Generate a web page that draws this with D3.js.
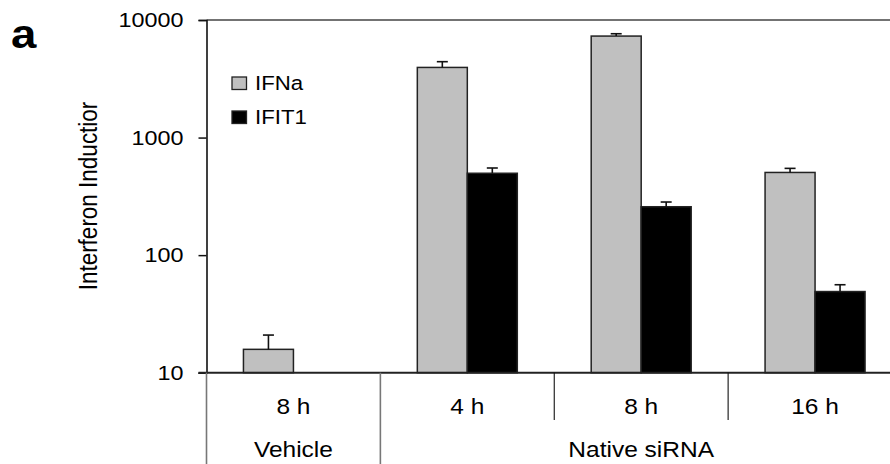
<!DOCTYPE html>
<html>
<head>
<meta charset="utf-8">
<script src="https://cdn.jsdelivr.net/npm/d3@7/dist/d3.min.js"></script>
<style>
  html, body { margin: 0; padding: 0; background: #fff; }
  svg { display: block; font-family: "Liberation Sans", Arial, sans-serif; }
</style>
</head>
<body>
<svg id="chart" width="890" height="464"></svg>
<script>
// Time points (first row of the category axis) and treatment groups (second row)
const timePoints = ["8 h", "4 h", "8 h", "16 h"];
const treatments = ["Vehicle", "Native siRNA"];
const treatmentSpan = [1, 3];           // number of time points in each treatment

const seriesNames = ["IFNa", "IFIT1"];
const ifnaValues = [15.8, 3950, 7300, 505];
const ifnaErrors = [5.1, 470, 340, 42];
const ifit1Values = [null, 497, 258, 49];
const ifit1Errors = [null, 54, 25, 7];

const yTicks = [10, 100, 1000, 10000];
const yTitle = "Interferon Inductior";
const panelLetter = "a";

const seriesFill = { IFNa: "#c0c0c0", IFIT1: "#000000" };

// text is drawn slightly widened horizontally
const SX = 1.14;

const svg = d3.select("#chart");
const plot = { left: 206.5, top: 20, right: 902, bottom: 372.7 };

const x = d3.scaleBand()
  .domain(d3.range(timePoints.length))
  .range([plot.left, plot.right])
  .paddingInner(0.425)
  .paddingOuter(0.2125);

const xSub = d3.scaleBand()
  .domain(seriesNames)
  .range([0, x.bandwidth()]);

const y = d3.scaleLog()
  .domain([10, 10000])
  .range([plot.bottom, plot.top]);

const rows = timePoints.map((t, i) => ({
  i,
  bars: [
    { key: "IFNa", v: ifnaValues[i], e: ifnaErrors[i] },
    { key: "IFIT1", v: ifit1Values[i], e: ifit1Errors[i] }
  ].filter(b => b.v != null)
}));

// top frame line
svg.append("line")
  .attr("x1", plot.left).attr("x2", 890)
  .attr("y1", plot.top).attr("y2", plot.top)
  .attr("stroke", "#444").attr("stroke-width", 1.5);

// bars
const groups = svg.append("g").selectAll("g")
  .data(rows).join("g")
  .attr("transform", d => `translate(${x(d.i)},0)`);

groups.selectAll("rect")
  .data(d => d.bars).join("rect")
  .attr("x", d => xSub(d.key))
  .attr("y", d => y(d.v))
  .attr("width", xSub.bandwidth())
  .attr("height", d => y(10) - y(d.v))
  .attr("fill", d => seriesFill[d.key])
  .attr("stroke", "#222")
  .attr("stroke-width", 1.5);

// upper error bars
const errs = groups.selectAll("g.err")
  .data(d => d.bars).join("g").attr("class", "err")
  .attr("stroke", "#111").attr("stroke-width", 1.6);
errs.append("line")
  .attr("x1", d => xSub(d.key) + xSub.bandwidth() / 2)
  .attr("x2", d => xSub(d.key) + xSub.bandwidth() / 2)
  .attr("y1", d => y(d.v))
  .attr("y2", d => y(d.v + d.e));
errs.append("line")
  .attr("x1", d => xSub(d.key) + xSub.bandwidth() / 2 - 5.5)
  .attr("x2", d => xSub(d.key) + xSub.bandwidth() / 2 + 5.5)
  .attr("y1", d => y(d.v + d.e))
  .attr("y2", d => y(d.v + d.e));

// y axis
const yAxis = svg.append("g")
  .attr("transform", `translate(${plot.left},0)`)
  .call(d3.axisLeft(y).tickValues(yTicks).tickFormat(d3.format("d")).tickSize(8).tickPadding(15));
yAxis.select(".domain").attr("stroke", "#111").attr("stroke-width", 1.6);
yAxis.selectAll(".tick line").attr("stroke", "#111").attr("stroke-width", 1.5);
yAxis.selectAll(".tick text")
  .attr("font-size", 20.5)
  .attr("font-family", "Liberation Sans, Arial, sans-serif")
  .attr("fill", "#000")
  .attr("x", -23 / SX)
  .attr("transform", `scale(${SX},1)`);

// x axis line
svg.append("line")
  .attr("x1", plot.left - 8).attr("x2", 890)
  .attr("y1", plot.bottom).attr("y2", plot.bottom)
  .attr("stroke", "#222").attr("stroke-width", 2);

// category separators
const edges = [x.step() * 0, 1, 2, 3].map((_, k) => plot.left + k * x.step());
let acc = 0;
const treatmentEdges = [plot.left];
treatmentSpan.forEach(s => { acc += s; treatmentEdges.push(plot.left + acc * x.step()); });
edges.forEach(ex => {
  const major = treatmentEdges.some(t => Math.abs(t - ex) < 0.5);
  svg.append("line")
    .attr("x1", ex).attr("x2", ex)
    .attr("y1", plot.bottom).attr("y2", major ? 464 : 420)
    .attr("stroke", major ? "#777" : "#111")
    .attr("stroke-width", major ? 1.6 : 1.1);
});

function stretchedText(sel, tx, ty, str, size, opts = {}) {
  return sel.append("text")
    .attr("transform", `translate(${tx},${ty}) scale(${SX},1)` + (opts.rotate ? ` rotate(${opts.rotate})` : ""))
    .attr("text-anchor", opts.anchor || "middle")
    .attr("font-size", size)
    .attr("font-weight", opts.weight || "normal")
    .attr("fill", "#000")
    .text(str);
}

// first row: time points
timePoints.forEach((t, i) => {
  stretchedText(svg, x(i) + x.bandwidth() / 2, 413.5, t, 21.5);
});

// second row: treatments
acc = 0;
treatments.forEach((t, k) => {
  const x0 = plot.left + acc * x.step();
  acc += treatmentSpan[k];
  const x1 = plot.left + acc * x.step();
  stretchedText(svg, (x0 + x1) / 2, 456.5, t, 21.5);
});

// legend
const legend = svg.append("g");
seriesNames.forEach((s, k) => {
  const ly = 77 + k * 34;
  legend.append("rect")
    .attr("x", 232).attr("y", ly)
    .attr("width", 14.5).attr("height", 12.5)
    .attr("fill", seriesFill[s])
    .attr("stroke", "#222").attr("stroke-width", 1.3);
  stretchedText(legend, 255, ly + 13, s, 19.5, { anchor: "start" });
});

// y axis title
stretchedText(svg, 97, 196, yTitle, 22.5, { rotate: -90 });

// panel letter
stretchedText(svg, 11, 48, panelLetter, 40, { anchor: "start", weight: "bold" });
</script>
</body>
</html>
